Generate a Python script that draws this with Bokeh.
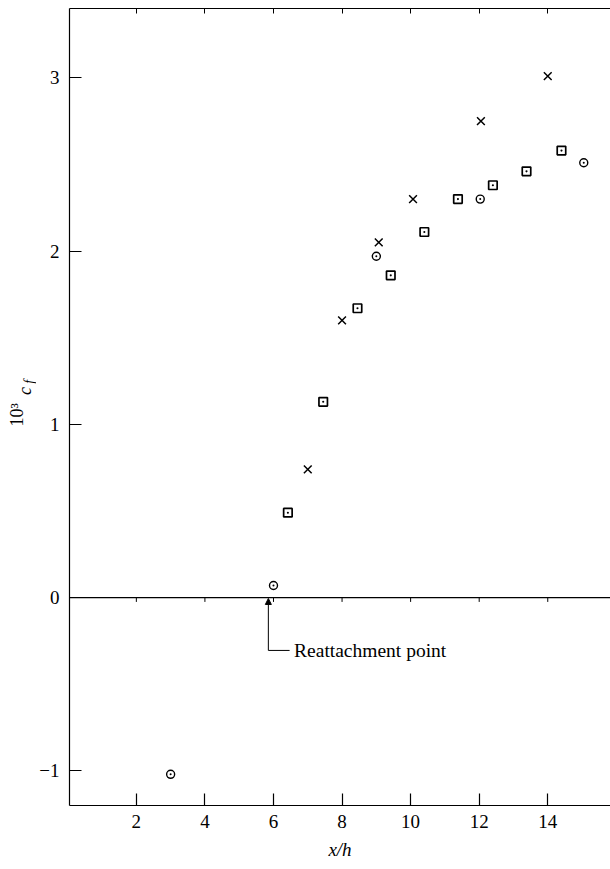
import math
from bokeh.plotting import figure
from bokeh.layouts import row
from bokeh.core.properties import value
from bokeh.models import Span, Label, Arrow, NormalHead, FixedTicker, LinearAxis, Range1d
from bokeh.embed import file_html
from bokeh.resources import INLINE

# Data
circle_x = [3.0, 6.0, 9.0, 12.03, 15.05]
circle_y = [-1.02, 0.07, 1.97, 2.30, 2.51]

cross_x = [7.0, 8.0, 9.07, 10.07, 12.05, 14.0]
cross_y = [0.74, 1.60, 2.05, 2.30, 2.75, 3.01]

square_x = [6.42, 7.45, 8.45, 9.42, 10.4, 11.38, 12.4, 13.38, 14.4]
square_y = [0.49, 1.13, 1.67, 1.86, 2.11, 2.30, 2.38, 2.46, 2.58]

x_ticks = [2, 4, 6, 8, 10, 12, 14]
y_ticks = [-1, 0, 1, 2, 3]

reattach_x = 5.85
reattach_text = "Reattachment point"

FONT = "Liberation Serif"
H = 869
LW = 36  # width of the strip that carries the y-axis title

# --- strip with the y axis title "10³ c_f" ---
lab = figure(width=LW, height=H, output_backend="svg", toolbar_location=None,
             x_range=Range1d(0, LW), y_range=Range1d(0, H),
             x_axis_location=None, y_axis_location=None,
             min_border=0, min_border_left=0, min_border_right=0,
             min_border_top=0, min_border_bottom=0)
lab.outline_line_color = None
lab.grid.visible = False
lab.text(x=[16], y=[H - 443], text=["10\u00b3"], angle=math.pi / 2,
         text_font=value(FONT), text_font_size="18px", text_color="black",
         text_baseline="middle", text_align="center")
lab.text(x=[24], y=[H - 417], text=["c"], angle=math.pi / 2,
         text_font=value(FONT), text_font_style="italic", text_font_size="18px",
         text_color="black", text_baseline="middle", text_align="center")
lab.text(x=[28.5], y=[H - 407], text=["f"], angle=math.pi / 2,
         text_font=value(FONT), text_font_style="italic", text_font_size="14px",
         text_color="black", text_baseline="middle", text_align="center")

# --- main plot ---
p = figure(width=610 - LW, height=H, output_backend="svg", toolbar_location=None,
           x_range=Range1d(0.05, 15.83), y_range=Range1d(-1.20, 3.40),
           x_axis_location=None, y_axis_location=None,
           min_border_left=68 - LW, min_border_right=0, min_border_top=8, min_border_bottom=64)
p.outline_line_color = None
p.grid.visible = False
p.background_fill_color = "white"
p.border_fill_color = "white"

# bottom axis
xb = LinearAxis(ticker=FixedTicker(ticks=x_ticks))
xb.major_tick_in = 12
xb.major_tick_out = 0
xb.minor_tick_line_color = None
xb.major_label_text_font = FONT
xb.major_label_text_font_size = "19px"
xb.major_label_text_color = "black"
xb.major_label_standoff = 9
xb.axis_label = "x/h"
xb.axis_label_text_font = FONT
xb.axis_label_text_font_style = "italic"
xb.axis_label_text_font_size = "19px"
xb.axis_label_text_color = "black"
xb.axis_label_standoff = 8
xb.axis_line_width = 1.2
xb.major_tick_line_width = 1.2
p.add_layout(xb, "below")

# top axis (ticks only)
xt = LinearAxis(ticker=FixedTicker(ticks=x_ticks))
xt.major_tick_in = 5
xt.major_tick_out = 0
xt.minor_tick_line_color = None
xt.major_label_text_font_size = "0px"
xt.major_label_text_color = None
xt.major_label_standoff = 0
xt.axis_line_width = 1.2
p.add_layout(xt, "above")

# left axis
yl = LinearAxis(ticker=FixedTicker(ticks=y_ticks))
yl.major_tick_in = 12
yl.major_tick_out = 0
yl.minor_tick_line_color = None
yl.major_label_text_font = FONT
yl.major_label_text_font_size = "19px"
yl.major_label_text_color = "black"
yl.major_label_standoff = 10
yl.major_label_overrides = {-1: "\u22121"}
yl.axis_line_width = 1.2
yl.major_tick_line_width = 1.2
p.add_layout(yl, "left")

# zero line with small ticks
p.add_layout(Span(location=0, dimension="width", line_color="black", line_width=1.2))
p.segment(x0=x_ticks, y0=[0] * len(x_ticks), x1=x_ticks, y1=[-0.025] * len(x_ticks),
          line_color="black", line_width=1)

# data
p.scatter(circle_x, circle_y, marker="circle_dot", size=8, fill_color=None,
          line_color="black", line_width=1.4)
p.scatter(square_x, square_y, marker="square_dot", size=8.5, fill_color=None,
          line_color="black", line_width=1.7)
p.scatter(cross_x, cross_y, marker="x", size=11, line_color="black", line_width=1.5)

# reattachment annotation
p.add_layout(Arrow(end=NormalHead(size=6, fill_color="black", line_color="black"),
                   x_start=reattach_x, y_start=-0.305, x_end=reattach_x, y_end=-0.005,
                   line_color="black", line_width=1))
p.segment(x0=[reattach_x], y0=[-0.305], x1=[6.47], y1=[-0.305], line_color="black", line_width=1)
p.add_layout(Label(x=6.6, y=-0.305, text=reattach_text, text_font=FONT,
                   text_font_size="19.5px", text_baseline="middle", text_color="black"))

layout = row(lab, p, spacing=0)
open("out.html", "w").write(file_html(layout, INLINE))
